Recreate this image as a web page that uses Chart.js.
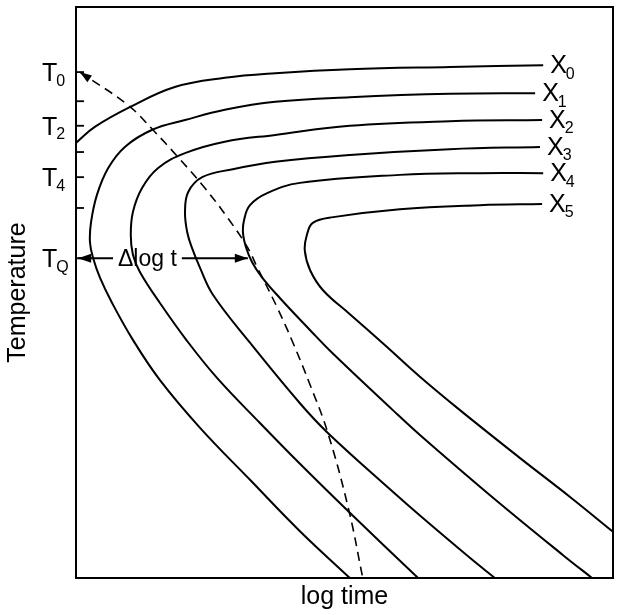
<!DOCTYPE html>
<html>
<head>
<meta charset="utf-8">
<script src="https://cdn.jsdelivr.net/npm/chart.js@4.4.0/dist/chart.umd.min.js"></script>
<style>
  html, body { margin: 0; padding: 0; background: #fff; }
</style>
</head>
<body>
<canvas id="c" width="620" height="615"></canvas>
<script>
// values: x = log time, y = temperature (both arbitrary 0-100 units)
// each curve is listed from its upper-right end, round the nose, down to its lower end
const curveX0 = [[87.0,89.8],[69.6,89.5],[51.0,89.1],[37.1,88.4],[27.7,87.6],[18.4,86.0],[10.1,82.5],[3.5,79.0],[0,76.2]];
const curveX1 = [[85.5,84.9],[69.6,84.8],[51.0,84.2],[37.1,83.4],[27.7,82.0],[20.3,80.2],[14.2,78.5],[9.1,75.5],[6.0,71.8],[3.9,67.1],[2.8,62.3],[2.6,58.8],[3.2,56.0],[4.5,52.5],[6.7,48.2],[10.6,41.7],[15.6,34.7],[23.1,26.3],[32.4,17.2],[41.7,8.2],[51.0,0]];
const curveX2 = [[86.8,80.2],[69.6,80.0],[51.0,79.2],[37.1,77.6],[27.7,76.4],[20.3,74.4],[15.3,71.8],[12.3,68.3],[10.6,64.1],[10.2,60.1],[10.6,56.6],[11.9,53.6],[15.6,48.2],[20.7,41.5],[26.3,35.0],[34.3,27.1],[41.7,20.0],[50.8,11.6],[63.7,0]];
const curveX3 = [[86.4,75.5],[69.6,75.1],[51.0,74.1],[37.1,72.9],[29.2,71.6],[23.5,70.2],[20.9,67.6],[20.3,64.1],[20.7,60.6],[21.6,57.8],[23.1,54.3],[25.5,49.6],[32.4,41.2],[41.7,30.6],[46.9,25.4],[59.0,15.1],[64.1,10.9],[73.4,3.5],[78.0,0]];
const curveX4 = [[87.0,70.9],[75.2,70.9],[60.3,70.6],[41.7,69.2],[35.6,67.4],[32.4,65.3],[31.3,62.7],[31.1,60.4],[31.7,57.8],[32.8,55.3],[34.6,52.7],[38.0,49.0],[43.6,43.4],[47.3,39.8],[59.0,29.4],[64.1,25.0],[77.1,14.5],[90.7,4.0],[96.1,0]];
const curveX5 = [[86.8,65.5],[75.2,65.3],[60.3,64.6],[47.9,63.2],[44.1,62.2],[43.0,60.1],[42.6,57.4],[43.6,53.9],[46.0,50.4],[51.0,46.2],[57.5,40.8],[64.1,35.2],[71.5,29.4],[82.7,21.0],[92.0,14.2],[100,8.1]];
const curveNames = ['X0', 'X1', 'X2', 'X3', 'X4', 'X5'];

// dashed curve, from the arrow tip at T0 down to the bottom
const dashedCurve = [[0.7,88.6],[9.7,82.8],[14.3,78.5],[19.0,73.7],[24.0,68.3],[28.3,63.0],[32.0,57.8],[33.7,54.5],[37.4,47.5],[40.4,41.2],[43.6,33.8],[46.9,25.4],[50.8,11.9],[53.4,0]];

// temperature axis ticks (drawn inside the frame)
const tempTicks = [88.6, 83.5, 79.2, 74.6, 70.2, 64.8, 56.0];
const tempTickLabels = ['T0', '', 'T2', '', 'T4', '', 'TQ'];

// the "Δlog t" span at TQ
const deltaLogT = { temp: 56.0, from: 0.4, to: 32.0, labelAt: 13.3, text: 'Δlog t' };

const FONT = '"Liberation Sans", Arial, Helvetica, sans-serif';

function toPoints(pairs) {
  return pairs.map(p => ({ x: p[0], y: p[1] }));
}

function drawSub(ctx, label, px, py, big, small, drop) {
  if (!label) return;
  ctx.textAlign = 'left';
  ctx.textBaseline = 'middle';
  ctx.font = big + 'px ' + FONT;
  ctx.fillText(label[0], px, py);
  const w = ctx.measureText(label[0]).width;
  ctx.font = small + 'px ' + FONT;
  ctx.fillText(label.slice(1), px + w - 1, py + drop);
}

function arrowHead(ctx, tx, ty, fx, fy, len, half) {
  const a = Math.atan2(ty - fy, tx - fx);
  ctx.beginPath();
  ctx.moveTo(tx, ty);
  ctx.lineTo(tx - len * Math.cos(a) + half * Math.sin(a), ty - len * Math.sin(a) - half * Math.cos(a));
  ctx.lineTo(tx - len * Math.cos(a) - half * Math.sin(a), ty - len * Math.sin(a) + half * Math.cos(a));
  ctx.closePath();
  ctx.fill();
}

const figurePlugin = {
  id: 'figure',
  afterDraw(chart) {
    const { ctx, chartArea: a, scales: { x, y } } = chart;
    ctx.save();
    ctx.strokeStyle = '#000';
    ctx.fillStyle = '#000';

    // frame
    ctx.lineWidth = 2;
    ctx.strokeRect(a.left, a.top, a.right - a.left, a.bottom - a.top);

    // inward ticks and T labels
    ctx.lineWidth = 1.8;
    tempTicks.forEach((v, i) => {
      const py = y.getPixelForValue(v);
      ctx.beginPath();
      ctx.moveTo(a.left, py);
      ctx.lineTo(a.left + 8, py);
      ctx.stroke();
      drawSub(ctx, tempTickLabels[i], 42, py + 2, 25, 16, 7);
    });

    // curve names at the upper-right ends
    curveNames.forEach((name, i) => {
      const pt = chart.getDatasetMeta(i).data[0];
      drawSub(ctx, name, pt.x + 7, pt.y + 1, 25, 16, 8);
    });

    // arrow head on the dashed curve
    const dm = chart.getDatasetMeta(curveNames.length).data;
    arrowHead(ctx, dm[0].x, dm[0].y, dm[1].x, dm[1].y, 12, 4);

    // Δlog t span
    const py = y.getPixelForValue(deltaLogT.temp);
    const x1 = x.getPixelForValue(deltaLogT.from);
    const x2 = x.getPixelForValue(deltaLogT.to);
    const xc = x.getPixelForValue(deltaLogT.labelAt);
    ctx.font = '23px ' + FONT;
    const tw = ctx.measureText(deltaLogT.text).width;
    ctx.textAlign = 'center';
    ctx.textBaseline = 'middle';
    ctx.fillText(deltaLogT.text, xc, py + 1);
    ctx.lineWidth = 1.8;
    ctx.beginPath();
    ctx.moveTo(x1, py); ctx.lineTo(xc - tw / 2 - 5, py);
    ctx.moveTo(xc + tw / 2 + 5, py); ctx.lineTo(x2, py);
    ctx.stroke();
    arrowHead(ctx, x1, py, x1 + 10, py, 13, 4.5);
    arrowHead(ctx, x2, py, x2 - 10, py, 13, 4.5);

    ctx.restore();
  }
};

const curves = [curveX0, curveX1, curveX2, curveX3, curveX4, curveX5];
const datasets = curves.map((c, i) => ({
  label: curveNames[i],
  data: toPoints(c),
  borderColor: '#000',
  borderWidth: 2,
  pointRadius: 0,
  tension: 0.4,
  fill: false
}));
datasets.push({
  label: 'dashed',
  data: toPoints(dashedCurve),
  borderColor: '#000',
  borderWidth: 1.6,
  borderDash: [9, 6],
  pointRadius: 0,
  tension: 0.4,
  fill: false
});

new Chart(document.getElementById('c'), {
  type: 'line',
  data: { datasets },
  options: {
    responsive: false,
    animation: false,
    events: [],
    layout: { padding: { left: 0, right: 7, top: 7, bottom: 0 } },
    plugins: { legend: { display: false }, tooltip: { enabled: false } },
    scales: {
      x: {
        type: 'linear', min: 0, max: 100,
        grid: { display: false }, border: { display: false },
        ticks: { display: false },
        title: { display: true, text: 'log time', color: '#000', font: { family: FONT, size: 25 }, padding: { top: 0, bottom: 3 } },
        afterFit(s) { s.height = 37; }
      },
      y: {
        type: 'linear', min: 0, max: 100,
        grid: { display: false }, border: { display: false },
        ticks: { display: false },
        title: { display: true, text: 'Temperature', color: '#000', font: { family: FONT, size: 25 }, padding: { top: 3, bottom: 0 } },
        afterFit(s) { s.width = 76; }
      }
    }
  },
  plugins: [figurePlugin]
});
</script>
</body>
</html>
